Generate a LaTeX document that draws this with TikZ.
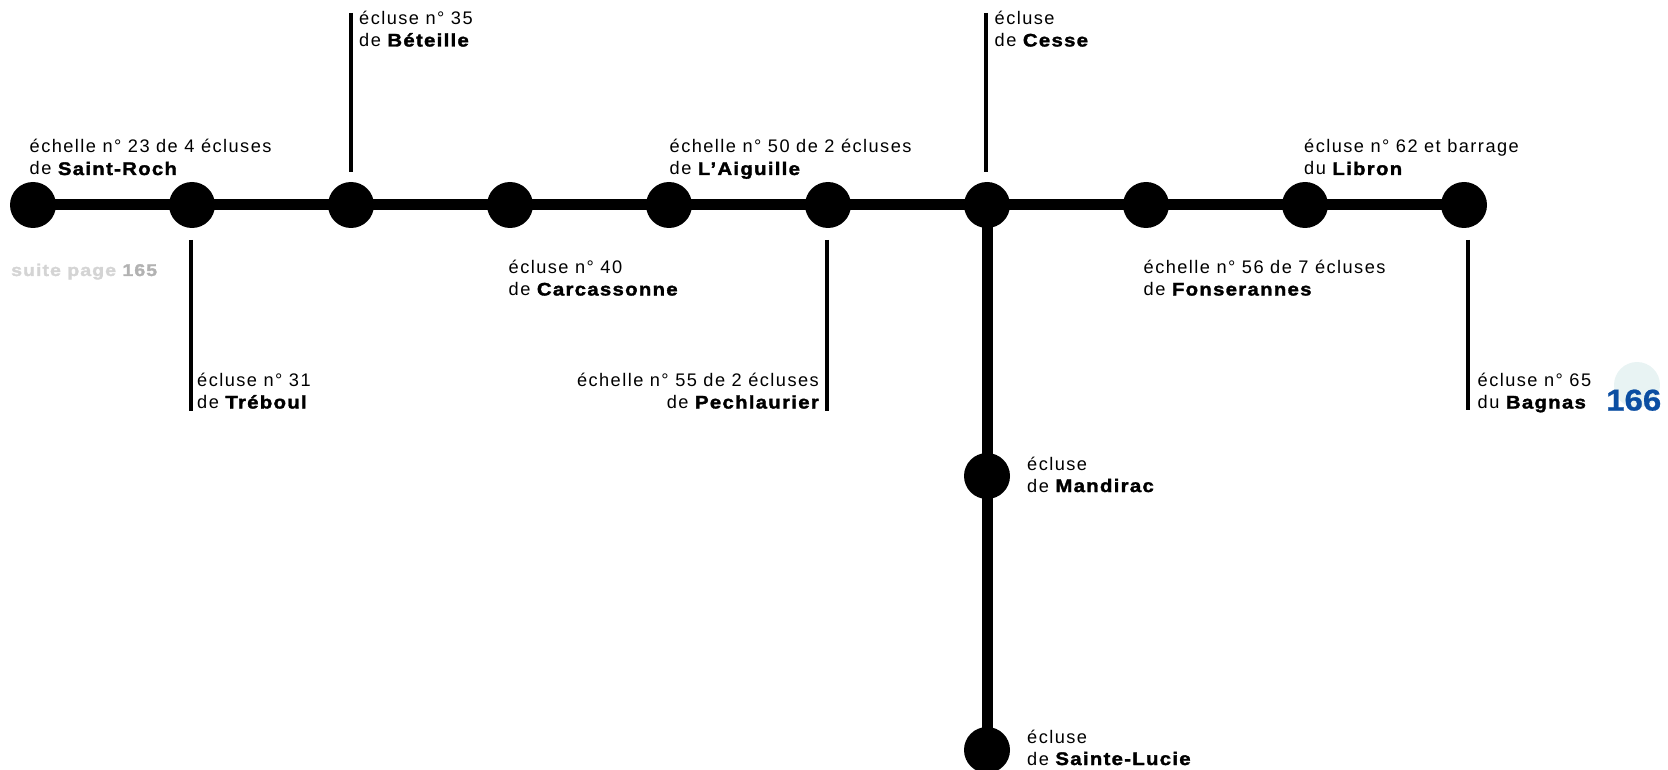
\documentclass[tikz,border=0pt]{standalone}
\usepackage{fontspec}
\setmainfont{Liberation Sans}[LetterSpace=8]
\newfontfamily\heavy{Liberation Sans Bold}[FakeBold=1.8,FakeStretch=1.12,LetterSpace=7]
\newfontfamily\heavysmall{Liberation Sans Bold}[FakeBold=1.8,FakeStretch=1.15,LetterSpace=6]
\newfontfamily\pagefont{Liberation Sans Bold}[FakeBold=0.8,FakeStretch=1.1]
\definecolor{pageblue}{HTML}{0B4EA2}
\definecolor{paleteal}{HTML}{E8F3F3}
\definecolor{lightgrey}{HTML}{D4D4D4}
\definecolor{midgrey}{HTML}{B2B2B2}
\tikzset{
  dot/.style={circle,fill=black,draw=none,minimum size=46pt,inner sep=0pt},
  trunk/.style={line width=11pt,black},
  tick/.style={line width=3.2pt,black},
  lbl/.style={inner sep=0pt,align=left,anchor=base west,font=\fontsize{18.2}{22}\selectfont},
  lblr/.style={inner sep=0pt,align=right,anchor=base east,font=\fontsize{18.2}{22}\selectfont},
}
\newcommand{\nm}[1]{{\heavy #1}}
\begin{document}
\begin{tikzpicture}[x=1pt,y=-1pt]
\path[use as bounding box] (0,0) rectangle (1668,770);
% stations on the main line
\node[dot] (c1) at (33,205) {};
\node[dot] (c2) at (192,205) {};
\node[dot] (c3) at (351,205) {};
\node[dot] (c4) at (510,205) {};
\node[dot] (c5) at (669,205) {};
\node[dot] (c6) at (828,205) {};
\node[dot] (c7) at (987,205) {};
\node[dot] (c8) at (1146,205) {};
\node[dot] (c9) at (1305,205) {};
\node[dot] (c10) at (1464,205) {};
\node[dot] (m1) at (987,476) {};
\node[dot] (m2) at (987,750) {};
\draw[trunk] (c1.center) -- (c10.center);
\draw[trunk] (c7.center) -- (m1.center) -- (m2.center);
% tick lines
\coordinate (t3a) at (351,13);  \coordinate (t3b) at (351,172);
\coordinate (t7a) at (986,13);  \coordinate (t7b) at (986,172);
\coordinate (t2a) at (191,240); \coordinate (t2b) at (191,411);
\coordinate (t6a) at (827,240); \coordinate (t6b) at (827,411);
\coordinate (t10a) at (1468,240); \coordinate (t10b) at (1468,410);
\draw[tick] (t3a) -- (t3b);
\draw[tick] (t7a) -- (t7b);
\draw[tick] (t2a) -- (t2b);
\draw[tick] (t6a) -- (t6b);
\draw[tick] (t10a) -- (t10b);
% labels (anchor = baseline of the last line)
\node[lbl] (l1) at (29.5,175) {échelle n° 23 de 4 écluses\\de \nm{Saint-Roch}};
\node[lbl] (l3) at (359,46.5) {écluse n° 35\\de \nm{Béteille}};
\node[lbl] (l2) at (197,408.5) {écluse n° 31\\de \nm{Tréboul}};
\node[lbl] (l4) at (508.5,295.5) {écluse n° 40\\de \nm{Carcassonne}};
\node[lbl] (l5) at (669.5,175) {échelle n° 50 de 2 écluses\\de \nm{L’Aiguille}};
\node[lblr] (l6) at (819,408.5) {échelle n° 55 de 2 écluses\\de \nm{Pechlaurier}};
\node[lbl] (l7) at (994.5,46.5) {écluse\\de \nm{Cesse}};
\node[lbl] (l8) at (1143.5,295.5) {échelle n° 56 de 7 écluses\\de \nm{Fonserannes}};
\node[lbl] (l9) at (1304,175) {écluse n° 62 et barrage\\du \nm{Libron}};
\node[lbl] (l10) at (1477.5,408.5) {écluse n° 65\\du \nm{Bagnas}};
\node[lbl] (l11) at (1027,492) {écluse\\de \nm{Mandirac}};
\node[lbl] (l12) at (1027,765) {écluse\\de \nm{Sainte-Lucie}};
% page references
\node[inner sep=0pt,anchor=base west,font=\heavysmall\fontsize{17}{19}\selectfont] (suite) at (11,276) {\textcolor{lightgrey}{suite page} \textcolor{midgrey}{165}};
\fill[paleteal] (1637,385) circle (23);
\node[inner sep=0pt,anchor=base west,font=\pagefont\fontsize{30}{32}\selectfont,text=pageblue] (page) at (1606,410.5) {166};
\end{tikzpicture}
\end{document}
